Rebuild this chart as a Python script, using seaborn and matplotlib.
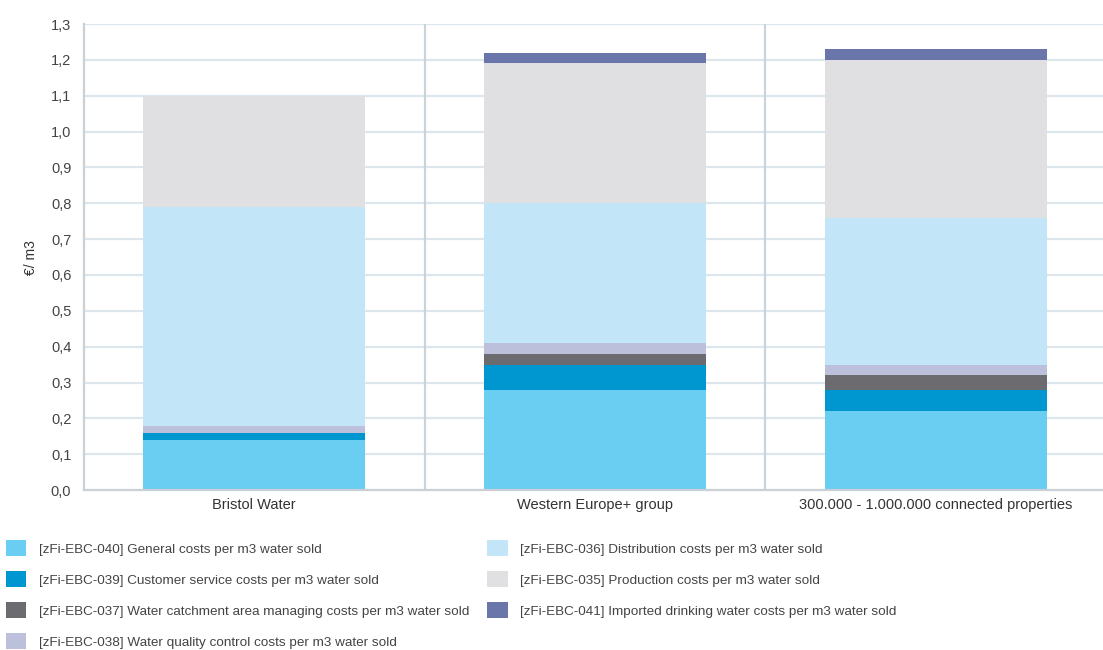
import numpy as np
import pandas as pd
import matplotlib
matplotlib.use("Agg")
import matplotlib.pyplot as plt
import seaborn as sns
from matplotlib.patches import Patch
from matplotlib.ticker import FuncFormatter, MultipleLocator

categories = ["Bristol Water", "Western Europe+ group", "300.000 - 1.000.000 connected properties"]

series_names = [
    "[zFi-EBC-040] General costs per m3 water sold",
    "[zFi-EBC-039] Customer service costs per m3 water sold",
    "[zFi-EBC-037] Water catchment area managing costs per m3 water sold",
    "[zFi-EBC-038] Water quality control costs per m3 water sold",
    "[zFi-EBC-036] Distribution costs per m3 water sold",
    "[zFi-EBC-035] Production costs per m3 water sold",
    "[zFi-EBC-041] Imported drinking water costs per m3 water sold",
]
general = [0.14, 0.28, 0.22]
customer = [0.02, 0.07, 0.06]
catchment = [0.00, 0.03, 0.04]
quality = [0.02, 0.03, 0.03]
distribution = [0.61, 0.39, 0.41]
production = [0.31, 0.39, 0.44]
imported = [0.00, 0.03, 0.03]

colors = ["#6ACDF2", "#0096D0", "#6B6B70", "#BCC0DA", "#C2E5F7", "#E0E0E2", "#6A76AA"]

sns.set_style("white")
plt.rcParams['font.family'] = ['Liberation Sans', 'DejaVu Sans']

series = [general, customer, catchment, quality, distribution, production, imported]
cum = np.cumsum(np.array(series), axis=0)

fig = plt.figure(figsize=(11.03, 6.5), dpi=100)
ax = fig.add_axes([0.076, 0.246, 0.927, 0.717])

grid_c = "#DDE6EC"
for v in np.arange(0.1, 1.31, 0.1):
    ax.axhline(v, color=grid_c, lw=1.6, zorder=0)
for xv in [0.5, 1.5]:
    ax.axvline(xv, color="#C9D3DA", lw=1.6, zorder=0)

for i in range(len(series) - 1, -1, -1):
    df = pd.DataFrame({"cat": categories, "val": cum[i]})
    sns.barplot(data=df, x="cat", y="val", color=colors[i], width=0.65,
                saturation=1, ax=ax, zorder=2, edgecolor="none")

ax.set_xlim(-0.5, 2.5)
ax.set_ylim(0, 1.3)
ax.yaxis.set_major_locator(MultipleLocator(0.1))
ax.yaxis.set_major_formatter(FuncFormatter(lambda v, p: f"{v:.1f}".replace(".", ",")))
ax.set_xlabel("")
ax.set_ylabel("€/ m3", fontsize=10, color="#333333", labelpad=9)
for s in ["top", "right"]:
    ax.spines[s].set_visible(False)
ax.spines["left"].set_color("#C9D0D6")
ax.spines["bottom"].set_color("#C9D0D6")
ax.spines["left"].set_linewidth(1.6)
ax.spines["bottom"].set_linewidth(1.6)
ax.tick_params(axis="y", length=6, color="#C9D0D6", width=1.2, labelsize=10.5, labelcolor="#444444", pad=3)
ax.tick_params(axis="x", length=0, labelsize=10.5, labelcolor="#333333", pad=6)

handles = [Patch(facecolor=c, edgecolor="none") for c in colors]
leg = fig.legend(handles, series_names, loc="upper left", bbox_to_anchor=(0.005, 0.169),
                 ncol=2, frameon=False, fontsize=9.7, handlelength=1.5, handleheight=1.45,
                 handletextpad=0.95, columnspacing=1.37, labelspacing=1.12, borderaxespad=0,
                 borderpad=0)
for t in leg.get_texts():
    t.set_color("#444444")

fig.savefig("out.png", dpi=100)
